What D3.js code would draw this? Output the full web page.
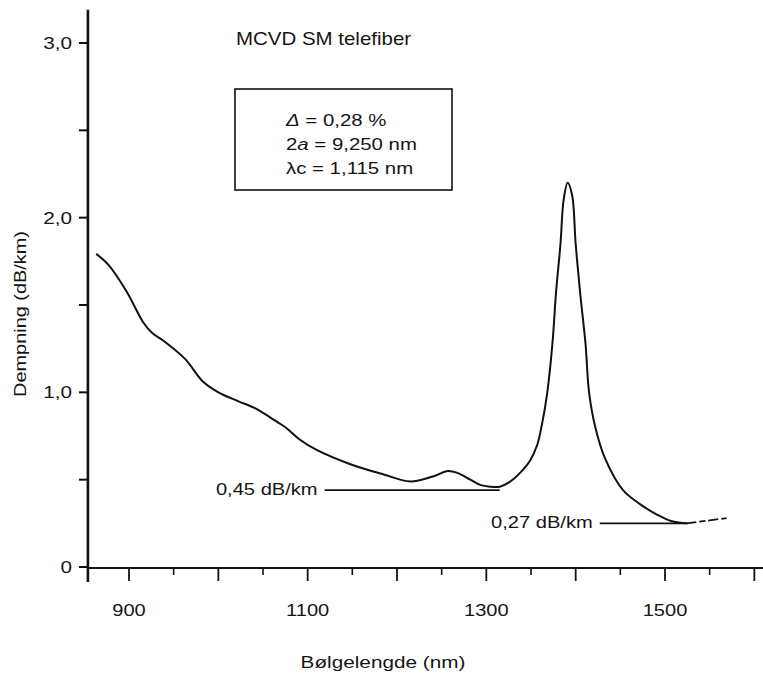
<!DOCTYPE html>
<html>
<head>
<meta charset="utf-8">
<script src="https://cdn.jsdelivr.net/npm/d3@7"></script>
<style>
  html, body { margin: 0; padding: 0; background: #fff; }
  svg { display: block; }
  text { font-family: "Liberation Sans", Arial, Helvetica, sans-serif; fill: #151515; }
</style>
</head>
<body>
<svg id="chart" width="763" height="676"></svg>
<script>
// ---- data ----
const wavelength = [864, 877, 897, 916, 926, 940, 963, 983, 1000, 1022, 1041, 1060, 1075, 1091, 1110, 1147, 1185, 1215, 1241, 1257, 1267, 1282, 1293, 1304, 1315, 1327, 1338, 1349, 1357, 1362, 1368, 1374, 1378, 1383, 1386.5, 1391, 1396, 1400, 1405, 1411, 1415, 1422, 1433, 1453, 1472, 1491, 1509, 1524];
const attenuation = [1.79, 1.73, 1.58, 1.40, 1.34, 1.29, 1.19, 1.06, 1.00, 0.95, 0.91, 0.85, 0.80, 0.73, 0.67, 0.59, 0.53, 0.49, 0.52, 0.55, 0.54, 0.50, 0.47, 0.46, 0.46, 0.49, 0.54, 0.61, 0.70, 0.81, 0.99, 1.28, 1.57, 1.85, 2.10, 2.20, 2.13, 1.85, 1.57, 1.28, 1.00, 0.80, 0.62, 0.44, 0.36, 0.30, 0.26, 0.25];
const tailWavelength = [1524, 1547, 1569];
const tailAttenuation = [0.25, 0.265, 0.28];

const yTicks = [0, 0.5, 1.0, 1.5, 2.0, 2.5, 3.0];
const yTickLabels = {0: "0", 1: "1,0", 2: "2,0", 3: "3,0"};
const xMajorTicks = [900, 1000, 1100, 1200, 1300, 1400, 1500, 1600];
const xMinorTicks = [950, 1050, 1150, 1250, 1350, 1450, 1550];
const xTickLabels = {900: "900", 1100: "1100", 1300: "1300", 1500: "1500"};

const annotationLevels = [0.44, 0.25];
const annotationLabels = ["0,45 dB/km", "0,27 dB/km"];
const annotationLineStart = [1119, 1427];
const annotationLineEnd = [1315, 1525];

const title = "MCVD SM telefiber";
const xTitle = "Bølgelengde (nm)";
const yTitle = "Dempning (dB/km)";

// ---- drawing ----
const svg = d3.select("#chart");
const x = d3.scaleLinear().domain([900, 1500]).range([129, 665]);
const y = d3.scaleLinear().domain([0, 3]).range([567, 43]);
const xMin = 854, xMax = 1612, yMax = 3.19;

function stext(str, px, py, size, anchor, sx, rot) {
  return svg.append("text")
    .attr("transform", `translate(${px},${py}) rotate(${rot || 0}) scale(${sx},1)`)
    .attr("text-anchor", anchor)
    .attr("font-size", size)
    .text(str);
}

// axes lines
svg.append("line")
  .attr("x1", x(xMin)).attr("x2", x(xMin))
  .attr("y1", y(yMax)).attr("y2", y(0) + 15)
  .attr("stroke", "#111").attr("stroke-width", 2.6);
svg.append("line")
  .attr("x1", x(xMin)).attr("x2", x(xMax))
  .attr("y1", y(0) + 1).attr("y2", y(0) + 1)
  .attr("stroke", "#111").attr("stroke-width", 2);

// y ticks
svg.selectAll(".yt").data(yTicks).enter().append("line")
  .attr("x1", x(xMin) - 9).attr("x2", x(xMin))
  .attr("y1", d => y(d)).attr("y2", d => y(d))
  .attr("stroke", "#111").attr("stroke-width", 2);
yTicks.filter(d => yTickLabels[d] !== undefined).forEach(d => {
  stext(yTickLabels[d], 72, y(d) + 6, 17, "end", 1.22);
});

// x ticks
svg.selectAll(".xM").data(xMajorTicks).enter().append("line")
  .attr("x1", d => x(d)).attr("x2", d => x(d))
  .attr("y1", y(0)).attr("y2", y(0) + 14)
  .attr("stroke", "#111").attr("stroke-width", 1.8);
svg.selectAll(".xm").data(xMinorTicks).enter().append("line")
  .attr("x1", d => x(d)).attr("x2", d => x(d))
  .attr("y1", y(0)).attr("y2", y(0) + 8)
  .attr("stroke", "#111").attr("stroke-width", 1.6);
xMajorTicks.filter(d => xTickLabels[d] !== undefined).forEach(d => {
  stext(xTickLabels[d], x(d), 616, 17, "middle", 1.18);
});

// axis titles
stext(xTitle, 383, 668, 17, "middle", 1.22);
stext(yTitle, 26, 314, 17, "middle", 1.17, -90);

// title
stext(title, 236, 45, 17.5, "start", 1.17);

// parameter box
svg.append("rect")
  .attr("x", 235).attr("y", 89).attr("width", 217).attr("height", 101)
  .attr("fill", "none").attr("stroke", "#111").attr("stroke-width", 1.6);
const boxLines = [
  [["Δ", true], [" = 0,28  %", false]],
  [["2", false], ["a", true], [" = 9,250 nm", false]],
  [["λc = 1,115 nm", false]]
];
const boxBase = [126, 150, 174];
boxLines.forEach((parts, i) => {
  const t = svg.append("text")
    .attr("transform", `translate(286,${boxBase[i]}) scale(1.2,1)`)
    .attr("font-size", 17);
  parts.forEach(p => t.append("tspan").attr("font-style", p[1] ? "italic" : "normal").text(p[0]));
});

// curve
const line = d3.line().x(d => x(d[0])).y(d => y(d[1])).curve(d3.curveCatmullRom.alpha(0.5));
svg.append("path")
  .datum(wavelength.map((w, i) => [w, attenuation[i]]))
  .attr("d", line)
  .attr("fill", "none").attr("stroke", "#111").attr("stroke-width", 2)
  .attr("stroke-linejoin", "round").attr("stroke-linecap", "round");
svg.append("path")
  .datum(tailWavelength.map((w, i) => [w, tailAttenuation[i]]))
  .attr("d", line)
  .attr("fill", "none").attr("stroke", "#111").attr("stroke-width", 1.8)
  .attr("stroke-dasharray", "10,3,6,3");

// annotations
annotationLevels.forEach((v, i) => {
  svg.append("line")
    .attr("x1", x(annotationLineStart[i])).attr("x2", x(annotationLineEnd[i]))
    .attr("y1", y(v)).attr("y2", y(v))
    .attr("stroke", "#111").attr("stroke-width", 1.6);
  stext(annotationLabels[i], x(annotationLineStart[i]) - 7, y(v) + 5, 16.5, "end", 1.22);
});
</script>
</body>
</html>
